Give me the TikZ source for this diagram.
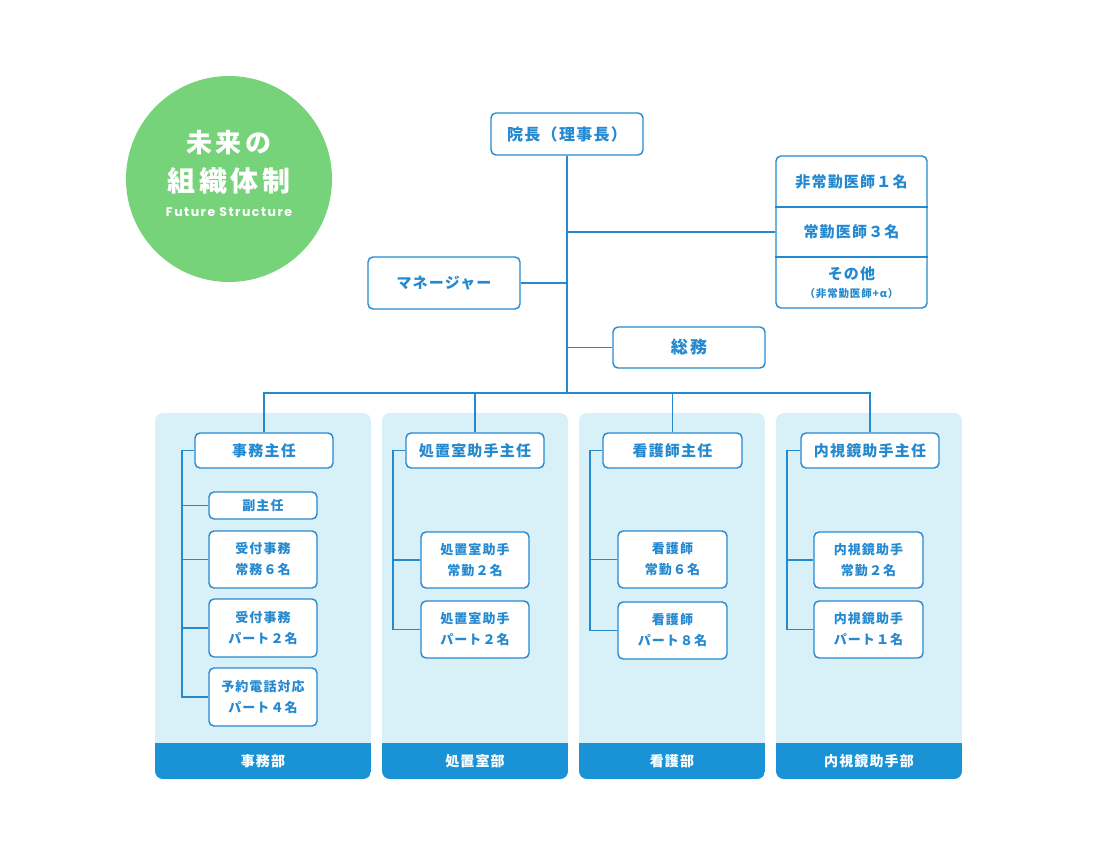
\documentclass[tikz,border=0pt]{standalone}
\usepackage{fontspec}
\newfontfamily\jp[LetterSpace=8]{Noto Sans CJK JP}
\newfontfamily\jpwide[LetterSpace=14]{Noto Sans CJK JP}
\newfontfamily\poppins[LetterSpace=12]{Poppins}
\definecolor{lineblue}{HTML}{2589D0}
\definecolor{footblue}{HTML}{1A93D6}
\definecolor{panelbg}{HTML}{D8F0F8}
\definecolor{circgreen}{HTML}{76D37A}
\tikzset{
  box/.style={draw=lineblue, line width=1.4pt, rounded corners=5pt, fill=white,
    inner sep=0pt, text=lineblue, align=center,
    font=\jp\bfseries\fontsize{13}{21}\selectfont},
  headbox/.style={box, minimum width=138pt, minimum height=35pt,
    font=\jp\bfseries\fontsize{15}{18}\selectfont},
  subbox/.style={box, minimum width=108pt},
  conn/.style={draw=lineblue, line width=1.4pt},
  foot/.style={text=white, font=\jp\bfseries\fontsize{14}{16}\selectfont},
  plain/.style={text=lineblue, inner sep=0pt, align=center}
}
\begin{document}
\begin{tikzpicture}[x=1pt,y=-1pt]
\useasboundingbox (0,0) rectangle (1102,850);
% circle
\fill[circgreen] (229,179) circle (103);
\node[text=white, font=\jpwide\bfseries\fontsize{26}{30}\selectfont] (t1) at (229,143) {未来の};
\node[text=white, font=\jpwide\bfseries\fontsize{28}{30}\selectfont] (t2) at (229,181) {組織体制};
\node[text=white, font=\poppins\bfseries\fontsize{12.5}{14}\selectfont] (t3) at (229,212) {Future Structure};
% panels
\foreach \xa/\xb in {155/371,382/568,579/765,776/962}{
  \begin{scope}
    \path[clip, rounded corners=8pt] (\xa,413) rectangle (\xb,779);
    \fill[panelbg] (\xa,413) rectangle (\xb,779);
    \fill[footblue] (\xa,743) rectangle (\xb,779);
  \end{scope}
}
\node[foot] (f1) at (263,761) {事務部};
\node[foot] (f2) at (475,761) {処置室部};
\node[foot] (f3) at (672,761) {看護部};
\node[foot] (f4) at (869,761) {内視鏡助手部};
% top nodes
\node[box, minimum width=152pt, minimum height=42pt, font=\jp\bfseries\fontsize{16}{18}\selectfont] (ceo) at (567,134) {院長（理事長）};
\node[box, minimum width=151pt, minimum height=152pt] (stack) at (851.5,232) {};
\draw[conn] (stack.west |- 0,207) -- (stack.east |- 0,207);
\draw[conn] (stack.west |- 0,257) -- (stack.east |- 0,257);
\node[plain, font=\jp\bfseries\fontsize{15}{18}\selectfont] (st1) at (851.5,182) {非常勤医師１名};
\node[plain, font=\jp\bfseries\fontsize{15}{18}\selectfont] (st2) at (851.5,232) {常勤医師３名};
\node[plain, font=\jp\bfseries\fontsize{15}{18}\selectfont] (st3) at (851.5,274) {その他};
\node[plain, font=\jp\bfseries\fontsize{10.5}{12}\selectfont] (st4) at (851.5,294) {（非常勤医師+α）};
\node[box, minimum width=152pt, minimum height=52pt, font=\jp\bfseries\fontsize{15}{18}\selectfont] (mgr) at (444,283) {マネージャー};
\node[box, minimum width=152pt, minimum height=41pt, font=\jpwide\bfseries\fontsize{17}{18}\selectfont] (soumu) at (689,347.5) {総務};
\coordinate (bus) at (567,393);
% headers
\node[headbox] (h1) at (264,450.5) {事務主任};
\node[headbox] (h2) at (475,450.5) {処置室助手主任};
\node[headbox, minimum width=139pt] (h3) at (672.5,450.5) {看護師主任};
\node[headbox] (h4) at (870,450.5) {内視鏡助手主任};
% subs panel 1
\node[subbox, minimum height=27pt] (s11) at (263,505.5) {副主任};
\node[subbox, minimum height=57pt] (s12) at (263,559.5) {受付事務\\常務６名};
\node[subbox, minimum height=58pt] (s13) at (263,628) {受付事務\\パート２名};
\node[subbox, minimum height=58pt] (s14) at (263,697) {予約電話対応\\パート４名};
% panel 2
\node[subbox, minimum height=56pt] (s21) at (475,560) {処置室助手\\常勤２名};
\node[subbox, minimum height=57pt] (s22) at (475,629.5) {処置室助手\\パート２名};
% panel 3
\node[subbox, minimum width=109pt, minimum height=57pt] (s31) at (672.5,559.5) {看護師\\常勤６名};
\node[subbox, minimum width=109pt, minimum height=57pt] (s32) at (672.5,630.5) {看護師\\パート８名};
% panel 4
\node[subbox, minimum width=109pt, minimum height=56pt] (s41) at (868.5,560) {内視鏡助手\\常勤２名};
\node[subbox, minimum width=109pt, minimum height=57pt] (s42) at (868.5,629.5) {内視鏡助手\\パート１名};
% connectors top
\draw[conn] (ceo.south) -- (bus);
\draw[conn] (stack.west -| ceo.south) -- (stack.west);
\draw[conn] (mgr.east) -- (mgr.east -| ceo.south);
\draw[conn] (soumu.west) -- (soumu.west -| ceo.south);
\draw[conn] (h1.north) -- (h1.north |- bus) -- (h4.north |- bus) -- (h4.north);
\draw[conn] (h2.north |- bus) -- (h2.north);
\draw[conn] (h3.north |- bus) -- (h3.north);
% brackets
\coordinate (b1) at (182,0);
\coordinate (b2) at (393,0);
\coordinate (b3) at (590,0);
\coordinate (b4) at (787,0);
\draw[conn] (h1.west) -- (b1 |- h1.west) -- (b1 |- s14.west) -- (s14.west);
\draw[conn] (b1 |- s11.west) -- (s11.west);
\draw[conn] (b1 |- s12.west) -- (s12.west);
\draw[conn] (b1 |- s13.west) -- (s13.west);
\draw[conn] (h2.west) -- (b2 |- h2.west) -- (b2 |- s22.west) -- (s22.west);
\draw[conn] (b2 |- s21.west) -- (s21.west);
\draw[conn] (h3.west) -- (b3 |- h3.west) -- (b3 |- s32.west) -- (s32.west);
\draw[conn] (b3 |- s31.west) -- (s31.west);
\draw[conn] (h4.west) -- (b4 |- h4.west) -- (b4 |- s42.west) -- (s42.west);
\draw[conn] (b4 |- s41.west) -- (s41.west);
\end{tikzpicture}
\end{document}
